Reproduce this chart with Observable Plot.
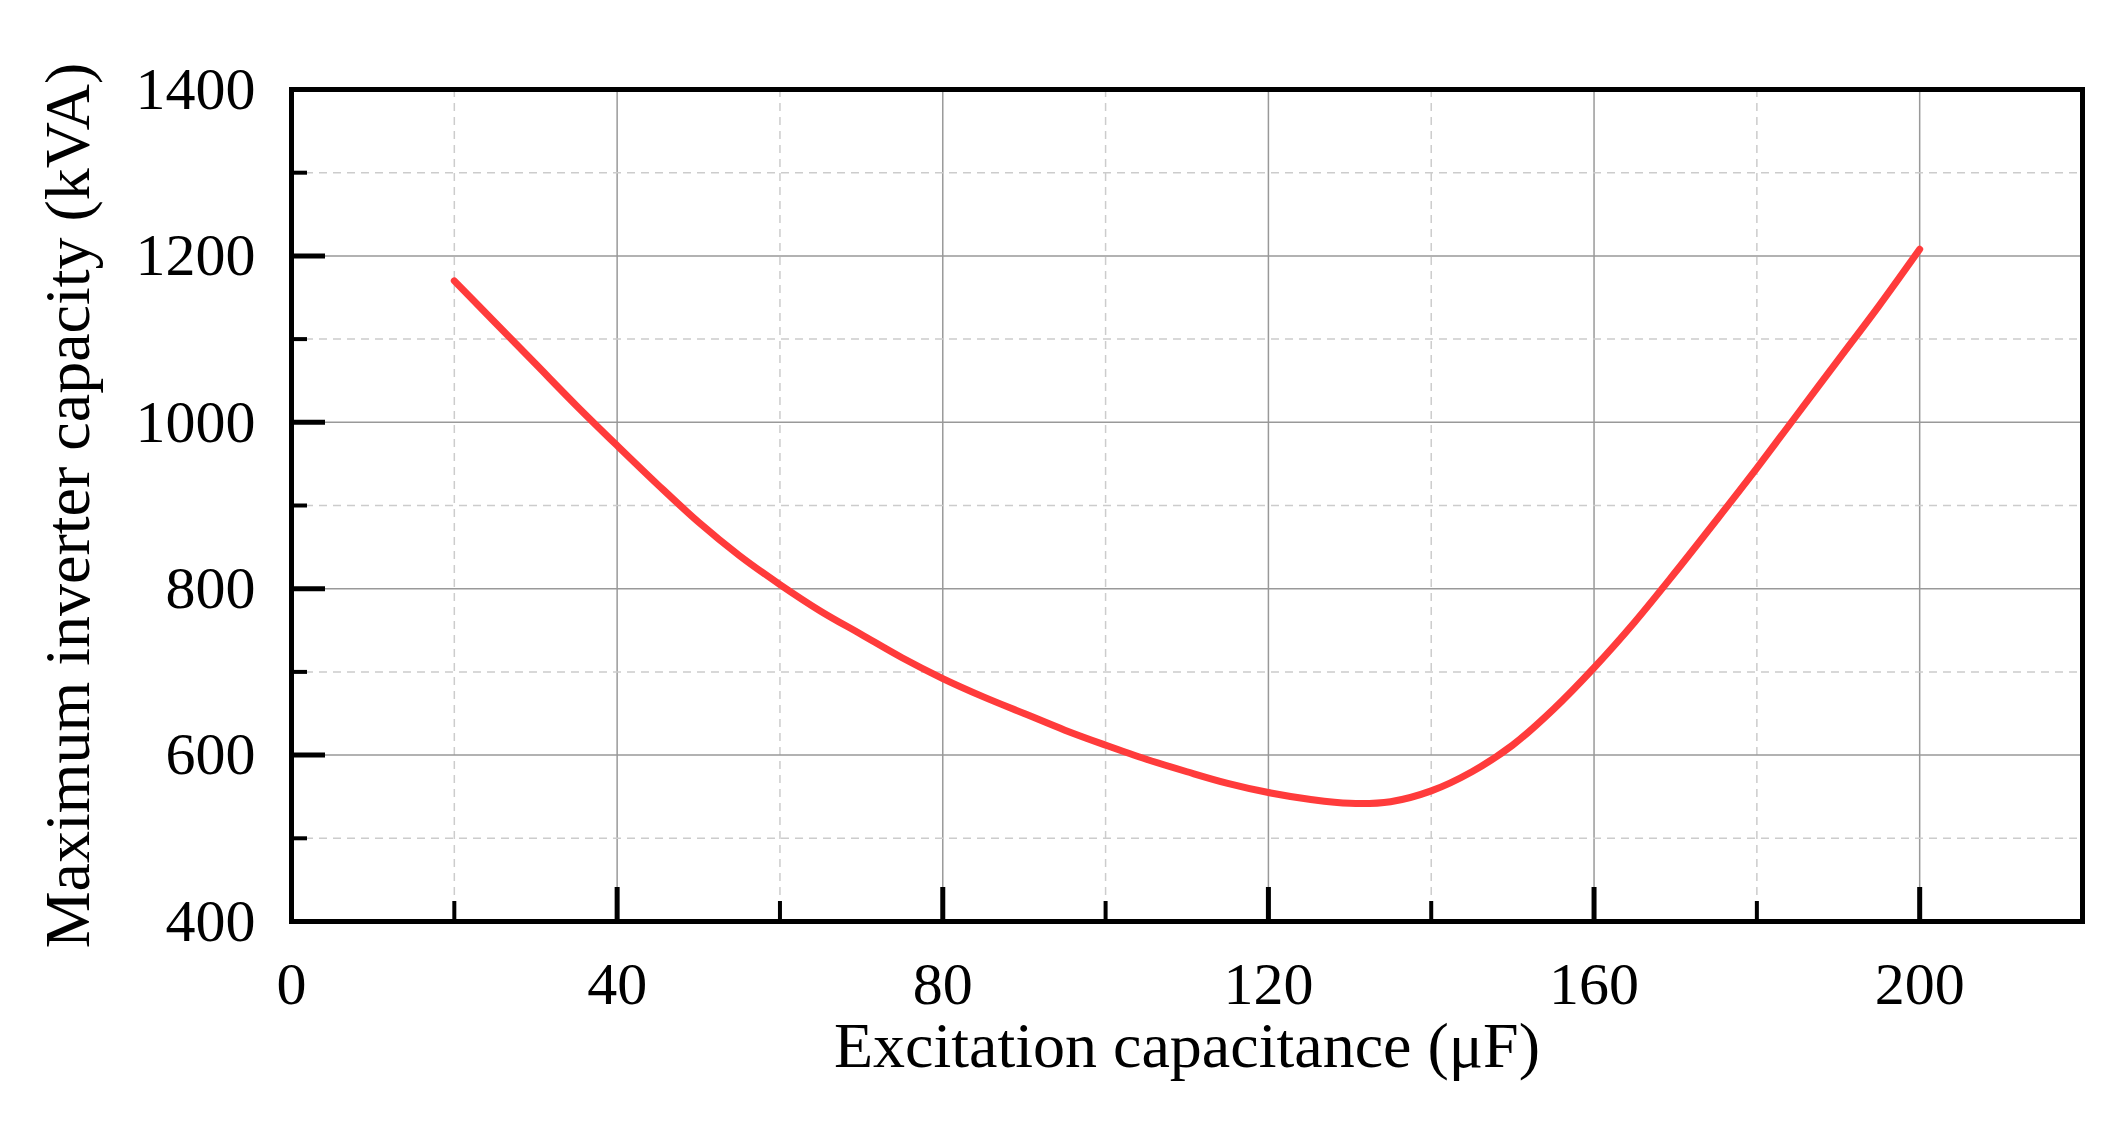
<!DOCTYPE html>
<html><head><meta charset="utf-8">
<script src="https://cdn.jsdelivr.net/npm/d3@7"></script>
<script src="https://cdn.jsdelivr.net/npm/@observablehq/plot@0.6"></script>
<style>body{margin:0;background:#fff}</style>
</head><body><div id="chart"></div>
<script>
const capacitance = [20,25,30,35,40,45,50,55,60,65,70,75,80,85,90,95,100,105,110,115,120,125,130,135,140,145,150,155,160,165,170,175,180,185,190,195,200];
const inverterKVA = [1170,1120,1070,1020,972,925,880,840,805,773,745,717,692,670,650,630,612,595,580,566,555,547,542,544,557,580,612,655,705,760,820,882,945,1010,1075,1140,1208];
const xMajor = [0,40,80,120,160,200];
const xMinor = [20,60,100,140,180];
const yMajor = [400,600,800,1000,1200,1400];
const yMinor = [500,700,900,1100,1300];
const data = capacitance.map((c,i)=>({c, v: inverterKVA[i]}));
const font = "Liberation Serif, Times New Roman, serif";
const chart = Plot.plot({
  width: 2120, height: 1130,
  marginLeft: 291, marginRight: 38, marginTop: 89, marginBottom: 209,
  style: {fontFamily: font, fontSize: "60px", color: "#000", background: "#fff"},
  x: {domain: [0,220]},
  y: {domain: [400,1400]},
  marks: [
    Plot.ruleX(xMajor.slice(1), {stroke: "#999", strokeWidth: 1.5}),
    Plot.ruleX(xMinor, {stroke: "#ccc", strokeWidth: 1.5, strokeDasharray: "8,6"}),
    Plot.ruleY(yMajor.slice(1,-1), {stroke: "#999", strokeWidth: 1.5}),
    Plot.ruleY(yMinor, {stroke: "#ccc", strokeWidth: 1.5, strokeDasharray: "8,6"}),
    Plot.line(data, {x: "c", y: "v", stroke: "#ff3b3b", strokeWidth: 7, curve: "catmull-rom"}),
    Plot.axisX(xMajor, {tickSize: -34, text: null, strokeWidth: 5, label: null}),
    Plot.axisX(xMinor, {tickSize: -20, text: null, strokeWidth: 4, label: null}),
    Plot.axisX(xMajor, {tickSize: 0, tickPadding: 40, fontSize: 60, tickFormat: "d", label: null}),
    Plot.axisY(yMajor, {tickSize: -34, text: null, strokeWidth: 5, label: null}),
    Plot.axisY(yMinor, {tickSize: -16, text: null, strokeWidth: 4, label: null}),
    Plot.axisY(yMajor, {tickSize: 0, tickPadding: 36, fontSize: 60, tickFormat: "d", label: null}),
    Plot.frame({stroke: "#000", strokeWidth: 5}),
    Plot.text(["Excitation capacitance (μF)"], {frameAnchor: "bottom", dy: 145, textAnchor: "middle", fontSize: 64, fill: "#000"}),
    Plot.text(["Maximum inverter capacity (kVA)"], {frameAnchor: "left", dx: -223, rotate: -90, textAnchor: "middle", fontSize: 64, fill: "#000"})
  ]
});
document.getElementById("chart").append(chart);
</script></body></html>
